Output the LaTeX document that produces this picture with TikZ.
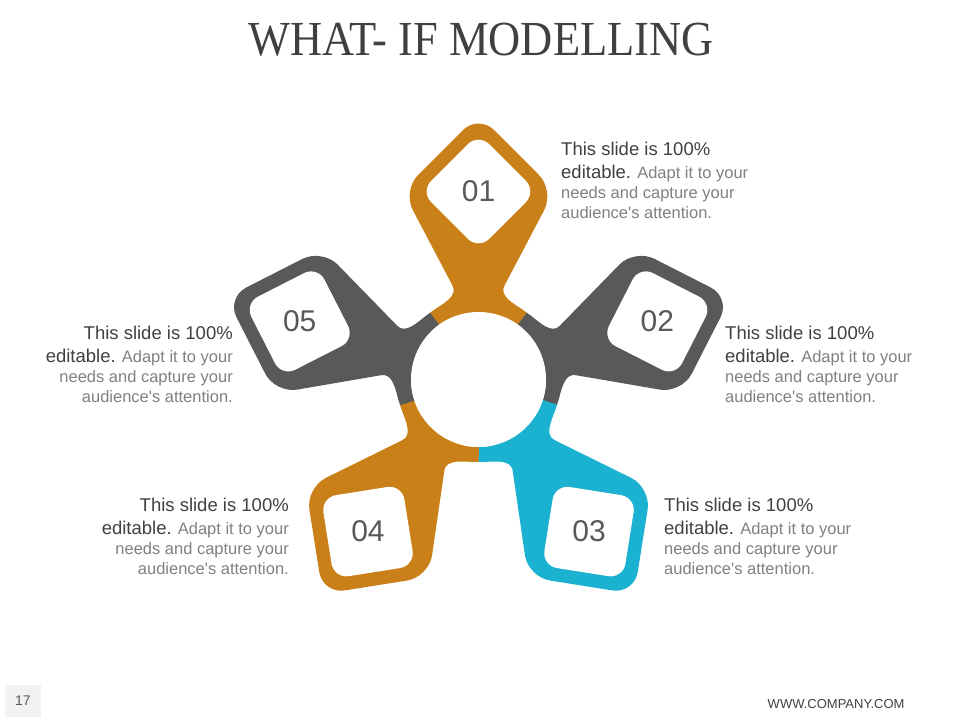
\documentclass[tikz,border=0pt]{standalone}
\usepackage{fontspec}
\setmainfont{Liberation Sans}
\newfontfamily\titlefont{Liberation Serif}
\usetikzlibrary{calc}

\definecolor{pinorange}{HTML}{C98019}
\definecolor{pingrey}{HTML}{595959}
\definecolor{pincyan}{HTML}{1BB1D0}
\definecolor{txtdark}{HTML}{404040}
\definecolor{txtlight}{HTML}{808080}
\definecolor{footgrey}{HTML}{F2F2F2}

\newcommand{\slidetext}{{\fontsize{18.5}{20}\selectfont\color{txtdark}This slide is 100\%}\\[3pt]
{\fontsize{18.5}{20}\selectfont\color{txtdark}editable.} Adapt it to your\\
needs and capture your\\
audience\textquotesingle s attention.}

\tikzset{
  blurb/.style={inner sep=0pt, text=txtlight, font=\fontsize{16.5}{20}\selectfont},
  pinnum/.style={text=pingrey, font=\fontsize{30}{30}\selectfont},
}

\begin{document}
\begin{tikzpicture}[x=1pt,y=1pt]
\useasboundingbox (0,0) rectangle (960,720);
\node[anchor=base, text=txtdark] (title) at (481,664) {\titlefont\fontsize{44.5}{45}\selectfont\scalebox{1}[1.1]{WHAT- IF MODELLING}};
\coordinate (hub) at (478.5,340.5);
% pins round the hub
\foreach \ang/\col/\num in {90/pinorange/01,18/pingrey/02,-54/pincyan/03,-126/pinorange/04,162/pingrey/05}{
  \begin{scope}[shift={(hub)},rotate=\ang]
    \fill[\col,rounded corners=22pt] (44.5,0) -- (189,-76) -- (265,0) -- (189,76) -- cycle;
    \fill[\col] (94,26) .. controls (83.4,20.4) and (76.1,35.1) .. (33:82.5) -- (55,0) -- cycle;
    \fill[\col] (94,-26) .. controls (83.4,-20.4) and (76.1,-35.1) .. (-33:82.5) -- (55,0) -- cycle;
    \draw[\col,line width=15pt] (-36.2:75) arc[start angle=-36.2,end angle=36.2,radius=75];
    \fill[white,rounded corners=15pt] (130,0) -- (188,-58) -- (246,0) -- (188,58) -- cycle;
    \node[pinnum] (n\num) at (188,0) {\num};
  \end{scope}
}
\fill[white] (hub) circle[radius=67.5];
% texts
\node[blurb, anchor=north west, align=left] (t01) at (561,578) {\slidetext};
\node[blurb, anchor=north west, align=left] (t02) at (725,394) {\slidetext};
\node[blurb, anchor=north west, align=left] (t03) at (664,222) {\slidetext};
\node[blurb, anchor=north east, align=right] (t04) at (289,222) {\slidetext};
\node[blurb, anchor=north east, align=right] (t05) at (233,394) {\slidetext};
% footer
\node[fill=footgrey, minimum width=36pt, minimum height=32pt, text=pingrey, font=\fontsize{14}{14}\selectfont] (page) at (23,19) {17};
\node[anchor=base east, text=txtdark, font=\fontsize{13}{13}\selectfont] (site) at (908,12) {WWW.COMPANY.COM};
\end{tikzpicture}
\end{document}
